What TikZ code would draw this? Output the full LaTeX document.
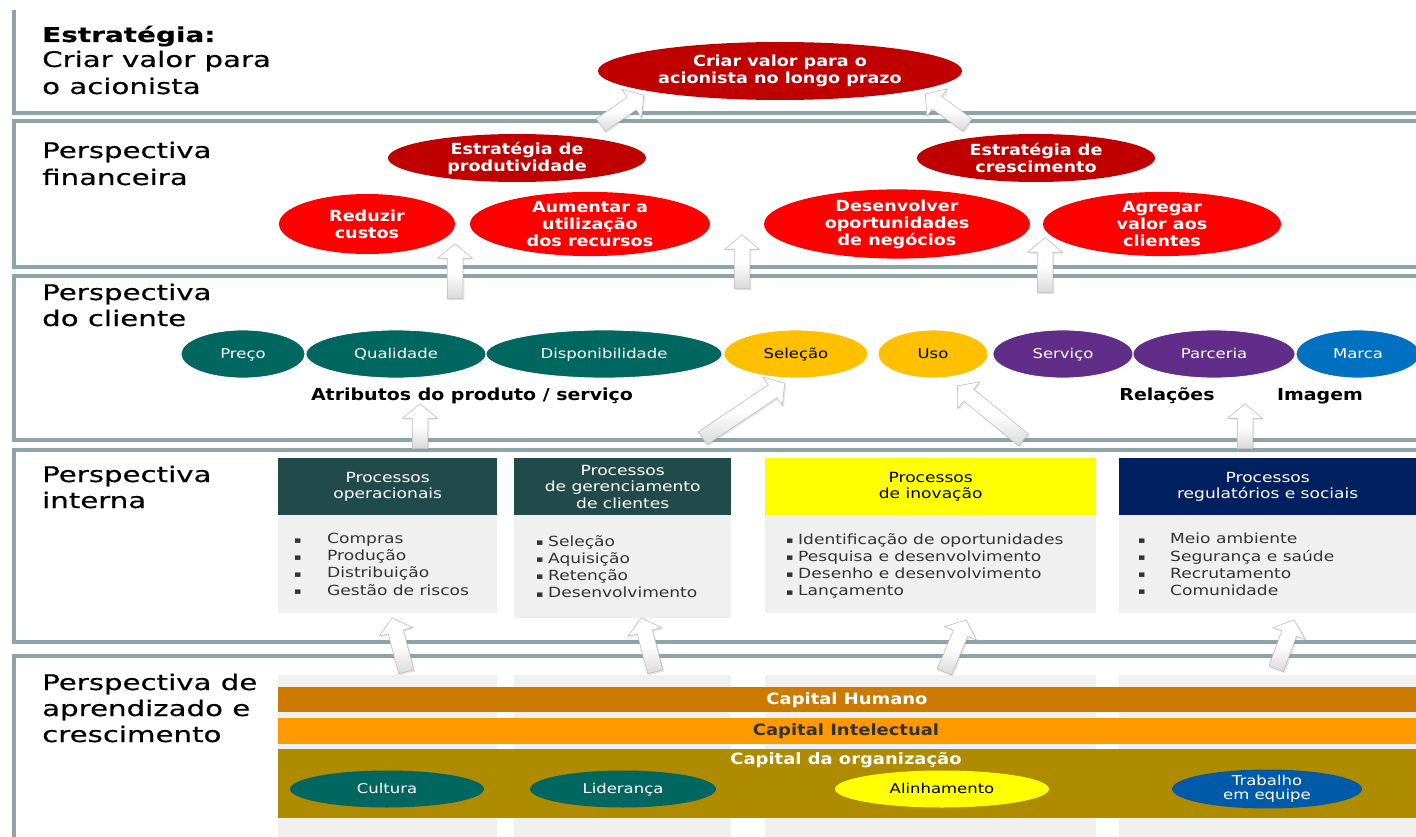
\documentclass[tikz,border=0pt]{standalone}
\usepackage{fontspec}
\setmainfont{DejaVu Sans}
\newfontfamily\lblfont[FakeStretch=1.36,FakeBold=0.35]{DejaVu Sans}
\newfontfamily\boldfam[FakeStretch=1.15]{DejaVu Sans}
\newfontfamily\txtfam[FakeStretch=1.22]{DejaVu Sans}
\usetikzlibrary{shapes.geometric,shapes.arrows,calc,shadows}

\definecolor{bandc}{HTML}{8DA4A8}
\definecolor{dred}{HTML}{C00000}
\definecolor{bred}{HTML}{FF0000}
\definecolor{teal}{HTML}{006660}
\definecolor{gold}{HTML}{FFC000}
\definecolor{purp}{HTML}{602D88}
\definecolor{mblue}{HTML}{0070C0}
\definecolor{slate}{HTML}{214A4A}
\definecolor{yel}{HTML}{FFFF00}
\definecolor{navy}{HTML}{002060}
\definecolor{bodyc}{HTML}{F0F0F0}
\definecolor{listc}{HTML}{333333}
\definecolor{humc}{HTML}{CC7A00}
\definecolor{intc}{HTML}{FF9900}
\definecolor{orgc}{HTML}{AF8B00}
\definecolor{teamc}{HTML}{005AA8}

% block arrow between two named points: tail, tip, name
\newcommand\blockarr[3]{%
  \path let \p1=($(#2)-(#1)$), \n1={atan2(\y1,\x1)}, \n2={veclen(\x1,\y1)} in
    node[blockarrow, rotate=\n1, minimum height=\n2] (#3) at ($(#1)!0.5!(#2)$) {};}
% small square list bullet in a box of the given width
\newcommand\sqb[1]{\makebox[#1][l]{\raisebox{0.5pt}{\fontsize{9}{9}\selectfont▪}}}

\begin{document}
\begin{tikzpicture}[x=1pt,y=-1pt,
  band/.style={draw=bandc, line width=4pt},
  lbl/.style={font=\lblfont\fontsize{21.5}{27}\selectfont, anchor=base west, inner sep=0pt, text=black},
  ell/.style={ellipse, inner sep=0pt, align=center},
  redtxt/.style={font=\boldfam\bfseries\fontsize{15.3}{17}\selectfont, text=white},
  etxt/.style={font=\txtfam\fontsize{13.5}{15.5}\selectfont},
  oneline/.style={text height=9.5pt, text depth=0pt},
  cust/.style={ell, etxt, oneline, draw=white, line width=0.8pt, minimum height=48pt},
  hdr/.style={rectangle, anchor=north west, inner sep=0pt, align=center, minimum height=57pt,
    font=\txtfam\fontsize{14}{16.5}\selectfont},
  bodybox/.style={rectangle, anchor=north west, inner sep=0pt, fill=bodyc},
  list/.style={anchor=north west, inner sep=0pt, align=left, text=listc,
    font=\txtfam\fontsize{14}{17.2}\selectfont},
  bar/.style={rectangle, anchor=north west, inner sep=0pt, minimum width=1138pt},
  bartxt/.style={font=\boldfam\bfseries\fontsize{15.6}{17}\selectfont, inner sep=0pt},
  grp/.style={font=\boldfam\bfseries\fontsize{16.5}{17}\selectfont, text=black, inner sep=0pt},
  lell/.style={ell, etxt, minimum height=37pt},
  blockarrow/.style={single arrow, draw=gray!50, line width=0.6pt,
    top color=white, bottom color=gray!30, middle color=white, inner xsep=0pt, inner ysep=7.5pt,
    single arrow head extend=9.5pt, single arrow tip angle=100,
    drop shadow={shadow xshift=1.5pt, shadow yshift=-1.5pt, opacity=0.2}}
]
\useasboundingbox (0,0) rectangle (1416,837);
\clip (0,0) rectangle (1416,837);
\fill[white] (0,0) rectangle (1416,837);

% perspective bands
\draw[band] (14,10) -- (14,113) -- (1430,113);
\draw[band] (14,121.5) rectangle (1430,267);
\draw[band] (14,276) rectangle (1430,440);
\draw[band] (14,450) rectangle (1430,642);
\draw[band] (14,656) rectangle (1430,900);

% band titles
\node[lbl, font=\lblfont\bfseries\fontsize{20.5}{27}\selectfont] (t1a) at (42,42) {Estratégia:};
\node[lbl] (t1b) at (42,67) {Criar valor para};
\node[lbl] (t1c) at (42,94) {o acionista};
\node[lbl] (t2a) at (42,158) {Perspectiva};
\node[lbl] (t2b) at (42,185) {financeira};
\node[lbl] (t3a) at (42,300) {Perspectiva};
\node[lbl] (t3b) at (42,326) {do cliente};
\node[lbl] (t4a) at (42,482) {Perspectiva};
\node[lbl] (t4b) at (42,508) {interna};
\node[lbl] (t5a) at (42,690) {Perspectiva de};
\node[lbl] (t5b) at (42,716) {aprendizado e};
\node[lbl] (t5c) at (42,742) {crescimento};

% strategy and financial objectives
\node[ell, redtxt, fill=dred, minimum width=364pt, minimum height=58pt] (cv) at (780,71)
  {Criar valor para o\\acionista no longo prazo};
\node[ell, redtxt, fill=dred, minimum width=258pt, minimum height=48pt] (ep) at (517,158)
  {Estratégia de\\produtividade};
\node[ell, redtxt, fill=dred, minimum width=238pt, minimum height=48pt] (ec) at (1036,158)
  {Estratégia de\\crescimento};
\node[ell, redtxt, fill=bred, minimum width=176pt, minimum height=60pt] (rc) at (367,224)
  {Reduzir\\custos};
\node[ell, redtxt, fill=bred, minimum width=240pt, minimum height=60pt] (ar) at (590,224)
  {Aumentar a\\utilização\\dos recursos};
\node[ell, redtxt, fill=bred, minimum width=266pt, minimum height=60pt] (dn) at (897,224)
  {Desenvolver\\oportunidades\\de negócios};
\node[ell, redtxt, fill=bred, minimum width=238pt, minimum height=60pt] (av) at (1162,224)
  {Agregar\\valor aos\\clientes};

% customer value proposition
\node[cust, fill=teal, text=white, minimum width=124pt] (preco) at (243,354) {Preço};
\node[cust, fill=teal, text=white, minimum width=180pt] (qual) at (396,354) {Qualidade};
\node[cust, fill=teal, text=white, minimum width=236pt] (disp) at (604,354) {Disponibilidade};
\node[cust, fill=gold, text=black, minimum width=144pt] (sel) at (796,354) {Seleção};
\node[cust, fill=gold, text=black, minimum width=110pt] (uso) at (933,354) {Uso};
\node[cust, fill=purp, text=white, minimum width=140pt] (serv) at (1063,354) {Serviço};
\node[cust, fill=purp, text=white, minimum width=162pt] (parc) at (1214,354) {Parceria};
\node[cust, fill=mblue, text=white, minimum width=124pt] (marca) at (1358,354) {Marca};
\node[grp] (attr) at (472,396) {Atributos do produto / serviço};
\node[grp] (rel) at (1167,396) {Relações};
\node[grp] (img) at (1320,396) {Imagem};

% internal processes
\node[hdr, fill=slate, text=white, minimum width=219pt] (h1) at (278,458) {Processos\\operacionais};
\node[bodybox, minimum width=219pt, minimum height=98pt] (b1) at (278,515) {};
\node[hdr, fill=slate, text=white, minimum width=217pt] (h2) at (514,458) {Processos\\de gerenciamento\\de clientes};
\node[bodybox, minimum width=217pt, minimum height=103pt] (b2) at (514,515) {};
\node[hdr, fill=yel, text=black, minimum width=331pt] (h3) at (765,458) {Processos\\de inovação};
\node[bodybox, minimum width=331pt, minimum height=98pt] (b3) at (765,515) {};
\node[hdr, fill=navy, text=white, minimum width=297pt] (h4) at (1119,458) {Processos\\regulatórios e sociais};
\node[bodybox, minimum width=297pt, minimum height=98pt] (b4) at (1119,515) {};

\node[list] (l1) at (294,533)
  {\sqb{33pt}Compras\\\sqb{33pt}Produção\\\sqb{33pt}Distribuição\\\sqb{33pt}Gestão de riscos};
\node[list] (l2) at (536,535)
  {\sqb{12pt}Seleção\\\sqb{12pt}Aquisição\\\sqb{12pt}Retenção\\\sqb{12pt}Desenvolvimento};
\node[list] (l3) at (786,533)
  {\sqb{12pt}Identificação de oportunidades\\\sqb{12pt}Pesquisa e desenvolvimento\\\sqb{12pt}Desenho e desenvolvimento\\\sqb{12pt}Lançamento};
\node[list] (l4) at (1138,533)
  {\sqb{32pt}Meio ambiente\\\sqb{32pt}Segurança e saúde\\\sqb{32pt}Recrutamento\\\sqb{32pt}Comunidade};

% learning and growth
\node[bodybox, minimum width=219pt, minimum height=165pt] (g1) at (278,675) {};
\node[bodybox, minimum width=217pt, minimum height=165pt] (g2) at (514,675) {};
\node[bodybox, minimum width=331pt, minimum height=165pt] (g3) at (765,675) {};
\node[bodybox, minimum width=297pt, minimum height=165pt] (g4) at (1119,675) {};
\node[bar, fill=humc, minimum height=25pt] (hum) at (278,687) {};
\node[bar, fill=intc, minimum height=26pt] (int) at (278,718) {};
\node[bar, fill=orgc, minimum height=69pt] (org) at (278,749) {};
\node[bartxt, text=white] (humt) at (847,700) {Capital Humano};
\node[bartxt, text=listc] (intt) at (846,731) {Capital Intelectual};
\node[bartxt, text=white] (orgt) at (846,760) {Capital da organização};
\node[lell, oneline, fill=teal, text=white, minimum width=194pt] (cult) at (387,789) {Cultura};
\node[lell, oneline, fill=teal, text=white, minimum width=186pt] (lid) at (623,789) {Liderança};
\node[lell, oneline, fill=yel, text=black, minimum width=214pt] (alin) at (942,789) {Alinhamento};
\node[lell, fill=teamc, text=white, minimum width=190pt, font=\txtfam\fontsize{13.5}{14.5}\selectfont] (team) at (1267,789) {Trabalho\\em equipe};

% cause-and-effect arrows
\coordinate (p1s) at (598,127);  \coordinate (p1e) at (641,97);
\coordinate (p2s) at (970,127);  \coordinate (p2e) at (928,96);
\coordinate (p3s) at (455,302);  \coordinate (p3e) at (455,247);
\coordinate (p4s) at (742,292);  \coordinate (p4e) at (742,238);
\coordinate (p5s) at (1045,296); \coordinate (p5e) at (1045,241);
\coordinate (p6s) at (420,452);  \coordinate (p6e) at (420,407);
\coordinate (p7s) at (700,440);  \coordinate (p7e) at (782,385);
\coordinate (p8s) at (1026,442); \coordinate (p8e) at (960,388);
\coordinate (p9s) at (1245,452); \coordinate (p9e) at (1245,407);
\coordinate (p10s) at (407,675); \coordinate (p10e) at (393,621);
\coordinate (p11s) at (656,675); \coordinate (p11e) at (642,621);
\coordinate (p12s) at (943,675); \coordinate (p12e) at (965,623);
\coordinate (p13s) at (1275,672);\coordinate (p13e) at (1293,623);
\blockarr{p1s}{p1e}{a1}
\blockarr{p2s}{p2e}{a2}
\blockarr{p3s}{p3e}{a3}
\blockarr{p4s}{p4e}{a4}
\blockarr{p5s}{p5e}{a5}
\blockarr{p6s}{p6e}{a6}
\blockarr{p7s}{p7e}{a7}
\blockarr{p8s}{p8e}{a8}
\blockarr{p9s}{p9e}{a9}
\blockarr{p10s}{p10e}{a10}
\blockarr{p11s}{p11e}{a11}
\blockarr{p12s}{p12e}{a12}
\blockarr{p13s}{p13e}{a13}
\end{tikzpicture}
\end{document}
